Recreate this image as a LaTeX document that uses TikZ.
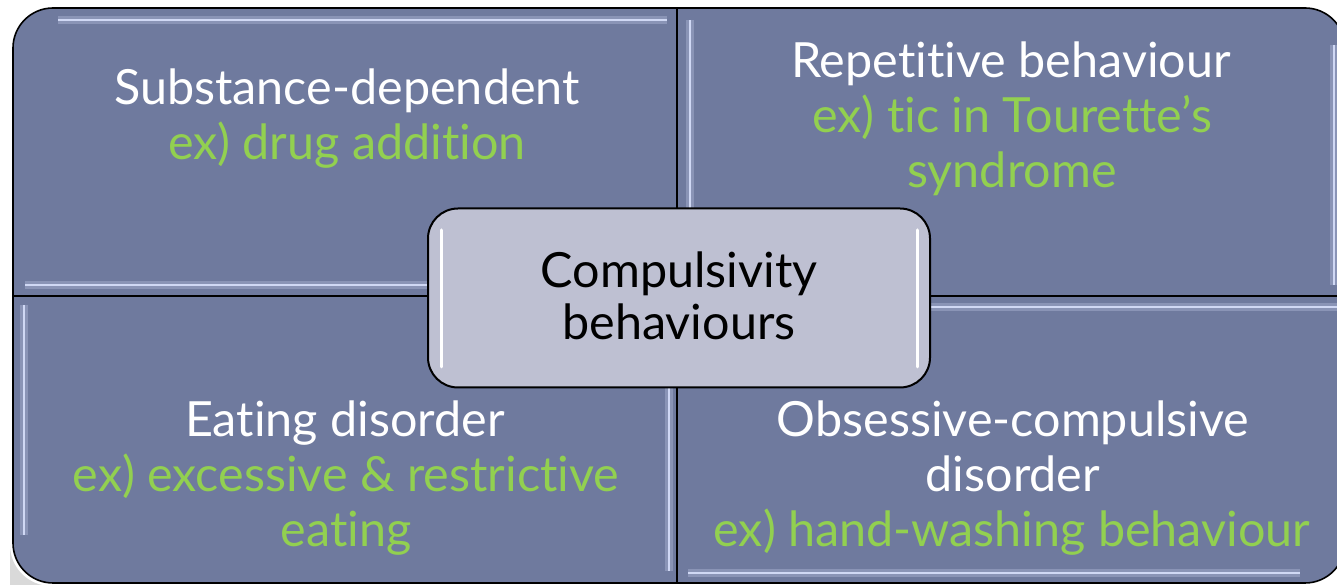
\documentclass[tikz,border=0pt]{standalone}
\usepackage{fontspec}
\setmainfont{Lato}[Ligatures=NoCommon]
\definecolor{quadfill}{HTML}{6F7A9E}
\definecolor{quadhi}{HTML}{DDE4FF}
\definecolor{exgreen}{HTML}{92D050}
\definecolor{centerfill}{HTML}{BEC0D2}
\tikzset{
  quad/.style={fill=quadfill, draw=black, line width=1.6pt},
  hisoft/.style={draw=quadhi, line width=8pt, opacity=0.25, line cap=butt},
  hiline/.style={draw=quadhi, line width=2.2pt, opacity=0.85, line cap=butt},
  lbl/.style={anchor=base, inner sep=0pt, font=\fontsize{48.5}{52}\selectfont},
  wtxt/.style={lbl, text=white},
  gtxt/.style={lbl, text=exgreen},
  ctxt/.style={lbl, text=black},
  centerbox/.style={fill=centerfill, draw=black, line width=2pt, rounded corners=30pt}
}
\begin{document}
\begin{tikzpicture}[x=1pt,y=1pt]
\useasboundingbox (0,0) rectangle (1337,585);
\clip (0,0) rectangle (1337,585);
\fill[white] (0,0) rectangle (1337,585);
% soft shadow
\fill[black!15] (10,-1) -- (10,40) arc[start angle=180,end angle=270,radius=41] -- (677,-1) -- cycle;
% quadrants
\path[quad] (13,289) -- (13,537) arc[start angle=180,end angle=90,radius=40] -- (677,577) -- (677,289) -- cycle;
\path[quad] (677,289) -- (677,577) -- (1305,577) arc[start angle=90,end angle=0,radius=40] -- (1345,289) -- cycle;
\path[quad] (13,289) -- (13,42) arc[start angle=180,end angle=270,radius=40] -- (677,2) -- (677,289) -- cycle;
\path[quad] (677,289) -- (677,2) -- (1305,2) arc[start angle=270,end angle=360,radius=40] -- (1345,289) -- cycle;
% bevel highlights
\foreach \s in {hisoft,hiline}{
  \draw[\s] (58,565) -- (667,565);
  \draw[\s] (25,300) -- (667,300);
  \draw[\s] (690,565) -- (690,300);
  \draw[\s] (1334,540) -- (1334,300);
  \draw[\s] (24,280) -- (24,50);
  \draw[\s] (669,280) -- (669,14);
  \draw[\s] (688,278) -- (1337,278);
  \draw[\s] (688,12) -- (1300,12);
}
% center box
\node[centerbox, minimum width=502pt, minimum height=179pt, inner sep=0pt] (center) at (679,287) {};
\draw[white, line width=3pt, line cap=round] (441,355) -- (441,218);
\draw[white, line width=3pt, line cap=round] (917,355) -- (917,218);
% texts
\node[ctxt] (c1) at (679,297) {Compulsivity};
\node[ctxt] (c2) at (679,245) {behaviours};
\node[wtxt] (tl1) at (347,480) {Substance-dependent};
\node[gtxt] (tl2) at (347,425) {ex) drug addition};
\node[wtxt] (tr1) at (1011,507) {Repetitive behaviour};
\node[gtxt] (tr2) at (1012,452) {ex) tic in Tourette’s};
\node[gtxt] (tr3) at (1012,397) {syndrome};
\node[wtxt] (bl1) at (345,148) {Eating disorder};
\node[gtxt] (bl2) at (346,93) {ex) excessive \& restrictive};
\node[gtxt] (bl3) at (346,38) {eating};
\node[wtxt] (br1) at (1013,148) {Obsessive-compulsive};
\node[wtxt] (br2) at (1013,93) {disorder};
\node[gtxt] (br3) at (1012,38) {ex) hand-washing behaviour};
\end{tikzpicture}
\end{document}
